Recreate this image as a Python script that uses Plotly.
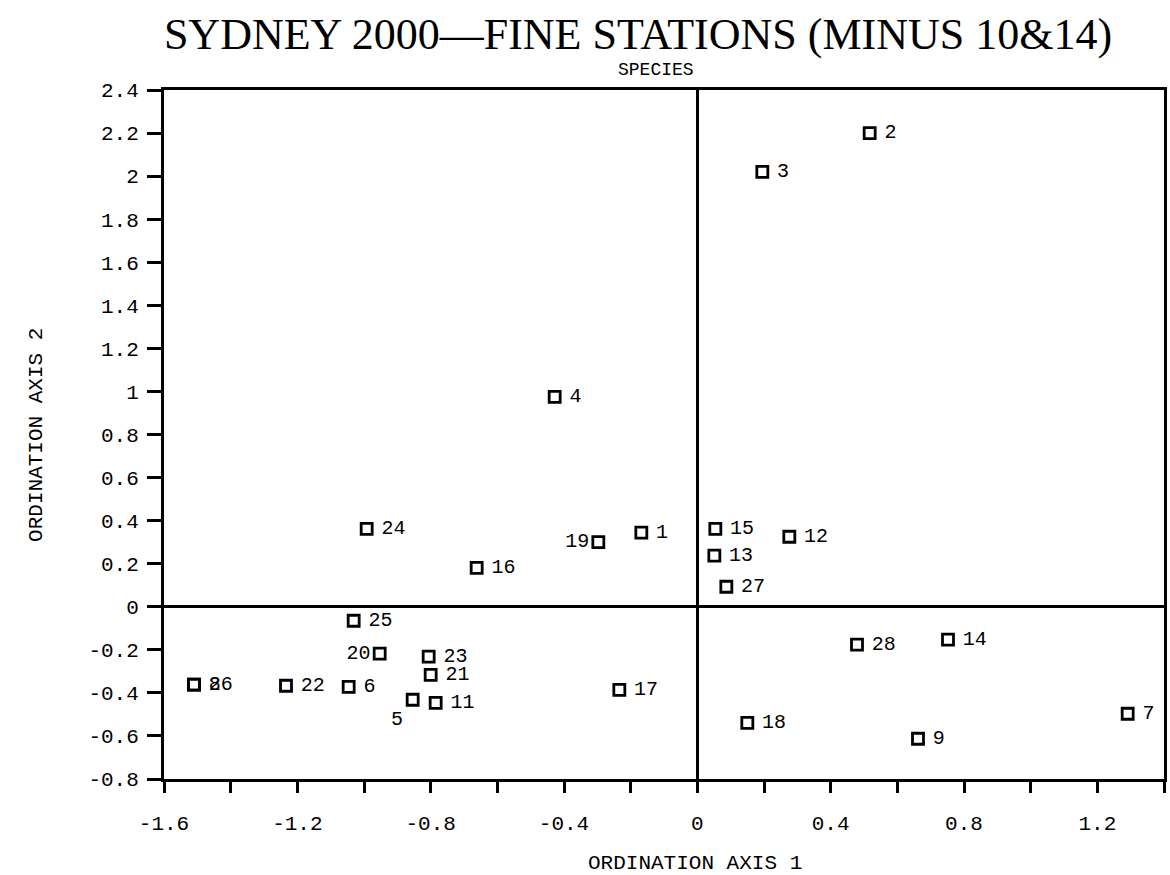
import plotly.graph_objects as go

# Station ordination scores (axis 1, axis 2)
stations = ["1", "2", "3", "4", "5", "6", "7", "8", "9", "11", "12", "13", "14", "15",
            "16", "17", "18", "19", "20", "21", "22", "23", "24", "25", "26", "27", "28"]
axis1 = [-0.168, 0.517, 0.195, -0.428, -0.854, -1.046, 1.291, -1.510, 0.662, -0.785,
         0.276, 0.051, 0.752, 0.054, -0.662, -0.234, 0.150, -0.297, -0.953, -0.800,
         -1.234, -0.806, -0.992, -1.031, -1.510, 0.087, 0.479]
axis2 = [0.344, 2.200, 2.020, 0.975, -0.432, -0.372, -0.497, -0.362, -0.613, -0.446,
         0.325, 0.237, -0.153, 0.362, 0.181, -0.386, -0.539, 0.300, -0.218, -0.316,
         -0.367, -0.232, 0.362, -0.065, -0.362, 0.093, -0.176]
label_side = ["right", "right", "right", "right", "bottomleft", "right", "right", "right",
              "right", "right", "right", "right", "right", "right", "right", "right",
              "right", "left", "left", "right", "right", "right", "right", "right",
              "right", "right", "right"]

x_tick_vals = [-1.6, -1.4, -1.2, -1.0, -0.8, -0.6, -0.4, -0.2, 0.0, 0.2, 0.4, 0.6, 0.8, 1.0, 1.2, 1.4]
x_tick_text = ["-1.6", "", "-1.2", "", "-0.8", "", "-0.4", "", "0", "", "0.4", "", "0.8", "", "1.2", ""]
y_tick_vals = [-0.8, -0.6, -0.4, -0.2, 0.0, 0.2, 0.4, 0.6, 0.8, 1.0, 1.2, 1.4, 1.6, 1.8, 2.0, 2.2, 2.4]
y_tick_text = ["-0.8", "-0.6", "-0.4", "-0.2", "0", "0.2", "0.4", "0.6", "0.8", "1",
               "1.2", "1.4", "1.6", "1.8", "2", "2.2", "2.4"]

pos_map = {"right": "middle right", "left": "middle left", "bottomleft": "bottom left"}
gap_map = {"right": 22, "left": 13, "bottomleft": 14}

MONO = "Liberation Mono"

fig = go.Figure()
# visible open-square markers
fig.add_trace(go.Scatter(
    x=axis1, y=axis2, mode="markers",
    marker=dict(symbol="square-open", size=11, color="black", line=dict(width=2.8, color="black")),
    showlegend=False, hoverinfo="skip", cliponaxis=False,
))
# station labels (invisible spacer markers set the text offset)
fig.add_trace(go.Scatter(
    x=axis1, y=axis2, text=stations,
    mode="markers+text",
    marker=dict(symbol="square", size=[gap_map[s] for s in label_side], opacity=0),
    textposition=[pos_map[s] for s in label_side],
    textfont=dict(family=MONO, size=20, color="black"),
    cliponaxis=False, showlegend=False, hoverinfo="skip",
))

fig.update_layout(
    width=1170, height=875,
    margin=dict(l=164, r=3, t=90, b=96),
    paper_bgcolor="white", plot_bgcolor="white",
    title=dict(text="SYDNEY 2000\u2014FINE STATIONS (MINUS 10&14)",
               font=dict(family="Liberation Serif", size=44, color="black"),
               xref="container", yref="container", x=638 / 1170, y=1 - 34 / 875,
               xanchor="center", yanchor="middle"),
    xaxis=dict(range=[-1.6, 1.4], tickvals=x_tick_vals, ticktext=x_tick_text,
               ticks="outside", ticklen=11, tickwidth=2.5, tickcolor="black",
               showline=True, mirror=True, linewidth=3, linecolor="black",
               zeroline=True, zerolinecolor="black", zerolinewidth=2.5,
               showgrid=False, tickfont=dict(family=MONO, size=21, color="black"),
               ticklabelstandoff=12),
    yaxis=dict(range=[-0.8, 2.4], tickvals=y_tick_vals, ticktext=y_tick_text,
               ticks="outside", ticklen=14, tickwidth=2.5, tickcolor="black",
               showline=True, mirror=True, linewidth=3, linecolor="black",
               zeroline=True, zerolinecolor="black", zerolinewidth=2.5,
               showgrid=False, tickfont=dict(family=MONO, size=21, color="black"),
               ticklabelstandoff=4),
    annotations=[
        dict(text="SPECIES", xref="paper", yref="paper",
             x=(657 - 164) / 1003, y=1 + 20 / 689, showarrow=False,
             font=dict(family=MONO, size=18, color="black"), xanchor="center", yanchor="middle"),
        dict(text="ORDINATION AXIS 1", xref="paper", yref="paper",
             x=(697 - 164) / 1003, y=-(863 - 779) / 689, showarrow=False,
             font=dict(family=MONO, size=21, color="black"), xanchor="center", yanchor="middle"),
        dict(text="ORDINATION AXIS 2", xref="paper", yref="paper",
             x=-(164 - 36) / 1003, y=0.5, showarrow=False, textangle=-90,
             font=dict(family=MONO, size=21, color="black"), xanchor="center", yanchor="middle"),
    ],
)

fig.write_html("out.html")
